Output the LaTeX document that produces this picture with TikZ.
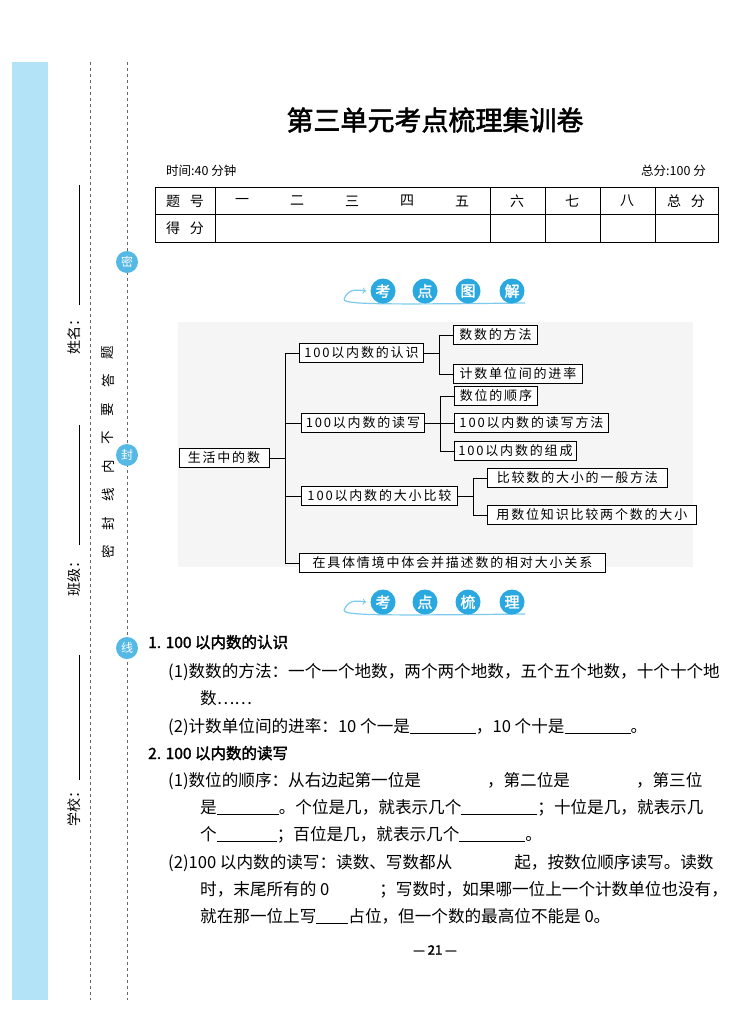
\documentclass[tikz,border=0pt]{standalone}
\usepackage{fontspec}
\setmainfont{Noto Sans CJK SC}
\newfontfamily\titlefont{Noto Sans CJK SC}[FakeBold=2]
\definecolor{strip}{HTML}{B3E3F6}
\definecolor{ball}{HTML}{2AA8E0}
\definecolor{lineb}{HTML}{7CCBEE}
\definecolor{diagbg}{HTML}{F5F5F5}
\newcommand{\fsz}[1]{\fontsize{#1}{#1}\selectfont}
\newcommand{\blank}[1]{\underline{\hspace{#1}}}
\tikzset{
  x=1pt,y=-1pt,
  box/.style={draw,line width=0.8pt,fill=white,minimum height=19pt,inner sep=1pt,font=\fsz{13}\addfontfeature{LetterSpace=14},anchor=north west},
  conn/.style={line width=0.8pt},
  txt/.style={anchor=base west,inner sep=0,font=\fsz{16.6}},
  head/.style={anchor=base west,inner sep=0,font=\titlefont\fsz{15.5}},
  marg/.style={rotate=90,inner sep=0,font=\fsz{14}},
  seal/.style={circle,fill=ball!80,text=white,inner sep=0,minimum size=22pt,font=\fsz{12}},
  bb/.style={circle,fill=ball,text=white,inner sep=0,minimum size=25pt,font=\titlefont\fsz{15}},
  cell/.style={font=\fsz{14},inner sep=0}
}
\begin{document}
\begin{tikzpicture}
\useasboundingbox (0,0) rectangle (734,1020);
\fill[white] (0,0) rectangle (734,1020);
% margin
\fill[strip] (12,62) rectangle (48,1000);
\draw[dashed,gray!80!black,line width=0.7pt] (90,62) -- (90,1000);
\draw[dashed,gray!80!black,line width=0.7pt] (127,62) -- (127,1000);
\node[seal] (s1) at (127,262) {密};
\node[seal] (s2) at (127,455) {封};
\node[seal] (s3) at (127,648) {线};
\node[marg] (n1) at (74,333) {姓名：};
\draw[line width=0.6pt] (79,305) -- (79,185);
\node[marg] (n2) at (74,575) {班级：};
\draw[line width=0.6pt] (79,545) -- (79,425);
\node[marg] (n3) at (74,805) {学校：};
\draw[line width=0.6pt] (79,780) -- (79,655);
\foreach \c [count=\i] in {密,封,线,内,不,要,答,题}
  \node[marg,font=\fsz{13.5}] (v\i) at (108,{552-(\i-1)*28.5}) {\c};
% title
\node[font=\titlefont\fsz{27}] (title) at (435,120) {第三单元考点梳理集训卷};
\node[anchor=base west,inner sep=0,font=\fsz{12.5}] (time) at (166,175) {时间:40 分钟};
\node[anchor=base east,inner sep=0,font=\fsz{12.5}] (score) at (706,175) {总分:100 分};
% table
\draw[line width=0.8pt] (155,187) rectangle (718,242);
\draw[line width=0.6pt] (155,214) -- (718,214);
\foreach \xx in {215,490,545,600,655} \draw[line width=0.6pt] (\xx,187) -- (\xx,242);
\node[cell] (t1) at (185,201) {题\hspace{0.7em}号};
\node[cell] (t2) at (185,228) {得\hspace{0.7em}分};
\foreach \c/\xx in {一/242,二/297,三/352,四/407,五/462,六/517,七/572,八/627}
  \node[cell] at (\xx,201) {\c};
\node[cell] (t3) at (686,201) {总\hspace{0.7em}分};
% banner 1
\draw[lineb,line width=1.2pt] (345,297) .. controls (340,304) and (350,305) .. (525,303);
\draw[lineb,line width=1.2pt,->] (345,297) .. controls (350,288) and (358,290) .. (366,291);
\foreach \c/\xx in {考/383,点/425,图/468,解/512} \node[bb] at (\xx,291) {\c};
% banner 2
\draw[lineb,line width=1.2pt] (345,608) .. controls (340,615) and (350,616) .. (525,614);
\draw[lineb,line width=1.2pt,->] (345,608) .. controls (350,599) and (358,601) .. (366,602);
\foreach \c/\xx in {考/383,点/425,梳/468,理/512} \node[bb] at (\xx,602) {\c};
% diagram
\fill[diagbg] (178,322) rectangle (693,567);
\node[box,minimum width=90pt] (root) at (178.5,448) {生活中的数};
\node[box,minimum width=124pt] (a) at (299,343) {100以内数的认识};
\node[box,minimum width=84pt] (a1) at (453,325) {数数的方法};
\node[box,minimum width=129pt] (a2) at (453,364) {计数单位间的进率};
\node[box,minimum width=123pt] (b) at (301,413) {100以内数的读写};
\node[box,minimum width=83pt] (b1) at (454,386) {数位的顺序};
\node[box,minimum width=154pt] (b2) at (454,413) {100以内数的读写方法};
\node[box,minimum width=122pt] (b3) at (454,441) {100以内数的组成};
\node[box,minimum width=156pt] (c) at (301,486) {100以内数的大小比较};
\node[box,minimum width=180pt] (c1) at (487,468) {比较数的大小的一般方法};
\node[box,minimum width=209pt] (c2) at (487,505) {用数位知识比较两个数的大小};
\node[box,minimum width=306pt] (d) at (299,553) {在具体情境中体会并描述数的相对大小关系};
\coordinate (tr) at (285,0);
\coordinate (ba) at (439,0);
\coordinate (bb) at (440,0);
\coordinate (bc) at (473,0);
\draw[conn] (root.east) -- (root.east -| tr);
\draw[conn] (tr |- a.west) -- (tr |- d.west);
\foreach \n in {a,b,c,d} \draw[conn] (tr |- \n.west) -- (\n.west);
\draw[conn] (a.east) -- (a.east -| ba);
\draw[conn] (ba |- a1.west) -- (ba |- a2.west);
\foreach \n in {a1,a2} \draw[conn] (ba |- \n.west) -- (\n.west);
\draw[conn] (b.east) -- (b2.west);
\draw[conn] (bb |- b1.west) -- (bb |- b3.west);
\foreach \n in {b1,b3} \draw[conn] (bb |- \n.west) -- (\n.west);
\draw[conn] (c.east) -- (c.east -| bc);
\draw[conn] (bc |- c1.west) -- (bc |- c2.west);
\foreach \n in {c1,c2} \draw[conn] (bc |- \n.west) -- (\n.west);
% text
\node[head] (h1) at (148,648) {1. 100 以内数的认识};
\node[txt] (l1) at (168,677) {(1)数数的方法：一个一个地数，两个两个地数，五个五个地数，十个十个地};
\node[txt] (l2) at (200,704) {数……};
\node[txt] (l3) at (168,732) {(2)计数单位间的进率：10 个一是\blank{66pt}，10 个十是\blank{66pt}。};
\node[head] (h2) at (148,759) {2. 100 以内数的读写};
\node[txt] (l4) at (168,786) {(1)数位的顺序：从右边起第一位是\hspace{66pt}，第二位是\hspace{66pt}，第三位};
\node[txt] (l5) at (200,813) {是\blank{62pt}。个位是几，就表示几个\blank{76pt}；十位是几，就表示几};
\node[txt] (l6) at (200,840) {个\blank{60pt}；百位是几，就表示几个\blank{66pt}。};
\node[txt] (l7) at (168,868) {(2)100 以内数的读写：读数、写数都从\hspace{62pt}起，按数位顺序读写。读数};
\node[txt] (l8) at (200,895) {时，末尾所有的 0\hspace{50pt}；写数时，如果哪一位上一个计数单位也没有，};
\node[txt] (l9) at (200,922) {就在那一位上写\blank{32pt}占位，但一个数的最高位不能是 0。};
\node[font=\titlefont\fsz{13}] (pg) at (435,950) {— 21 —};
\end{tikzpicture}
\end{document}
